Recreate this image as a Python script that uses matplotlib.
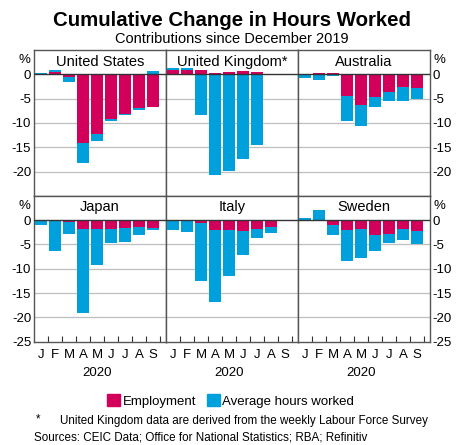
import numpy as np
import matplotlib.pyplot as plt
from matplotlib.patches import Patch

plt.rcParams['font.family'] = ['Liberation Sans', 'DejaVu Sans']
plt.rcParams['axes.unicode_minus'] = False

# DATA --->
months = ['J', 'F', 'M', 'A', 'M', 'J', 'J', 'A', 'S']
countries = ['United States', 'United Kingdom*', 'Australia',
             'Japan', 'Italy', 'Sweden']

emp_us = [0.0, 0.55, -0.5, -14.2, -12.3, -9.2, -8.2, -7.0, -6.8]
hrs_us = [0.2, 0.35, -1.1, -4.1, -1.4, -0.5, -0.1, -0.4, 0.7]

emp_uk = [0.95, 0.9, 0.9, 0.2, 0.4, 0.6, 0.5]
hrs_uk = [0.35, 0.3, -8.4, -20.7, -19.8, -17.4, -14.5]

emp_au = [0.1, 0.2, 0.2, -4.4, -6.4, -4.7, -3.7, -2.7, -2.9]
hrs_au = [-0.7, -1.2, -0.35, -5.2, -4.2, -2.0, -1.7, -2.8, -2.1]

emp_jp = [-0.2, -0.1, -0.4, -1.9, -1.9, -1.85, -1.6, -1.45, -1.6]
hrs_jp = [-0.75, -6.3, -2.5, -17.2, -7.3, -2.8, -2.9, -1.6, -0.5]

emp_it = [-0.05, -0.05, -0.5, -2.0, -2.0, -2.2, -1.85, -1.45]
hrs_it = [-1.9, -2.5, -12.0, -14.8, -9.5, -5.0, -1.9, -1.3]

emp_se = [-0.2, -0.15, -1.1, -2.0, -1.8, -3.0, -2.8, -1.9, -2.3]
hrs_se = [0.4, 2.0, -2.0, -6.4, -6.1, -3.4, -2.0, -2.2, -2.7]

yticks_top = [0, -5, -10, -15, -20]
yticks_bot = [0, -5, -10, -15, -20, -25]
# <--- DATA

emp_data = [emp_us, emp_uk, emp_au, emp_jp, emp_it, emp_se]
hrs_data = [hrs_us, hrs_uk, hrs_au, hrs_jp, hrs_it, hrs_se]

col_emp = '#D2005A'
col_hrs = '#00A0DC'
grid_col = '#BEBEBE'
frame_col = '#555555'

fig = plt.figure(figsize=(4.59, 4.45), dpi=100)

left = 34 / 459.
width = 132 / 459.
height = 145.8 / 445.
bottom_row = 1 - 341.6 / 445.
bottoms = [bottom_row + height, bottom_row]

for i in range(6):
    row = i // 3
    colm = i % 3
    ax = fig.add_axes([left + colm * width, bottoms[row], width, height])

    emp = np.array(emp_data[i])
    hrs = np.array(hrs_data[i])
    x = np.arange(len(emp))
    # stack hours on employment when same sign, otherwise start at zero
    base = np.where(np.sign(emp) == np.sign(hrs), emp, 0.0)

    ax.bar(x, emp, width=0.85, color=col_emp, zorder=3)
    ax.bar(x, hrs, width=0.85, bottom=base, color=col_hrs, zorder=3)

    ax.set_xlim(-0.5, 8.93)
    ax.set_ylim(-25, 5)

    for g in [-5, -10, -15, -20]:
        ax.axhline(g, color=grid_col, lw=0.9, zorder=1)
    ax.axhline(0, color='#333333', lw=1.0, zorder=4)

    for s in ax.spines.values():
        s.set_color(frame_col)
        s.set_linewidth(1.0)

    ax.text(4.2, 2.6, countries[i], ha='center', va='center',
            fontsize=10.5, zorder=5)

    ticks = yticks_top if row == 0 else yticks_bot
    ax.set_yticks(ticks)
    ax.set_yticklabels([str(t) for t in ticks])
    ax.tick_params(axis='y', length=0, labelsize=9.5, pad=2)
    if colm == 0:
        ax.tick_params(axis='y', left=False, labelleft=True,
                       right=False, labelright=False)
        ax.text(-0.03, 0.93, '%', transform=ax.transAxes, ha='right',
                va='center', fontsize=9.5)
    elif colm == 2:
        ax.tick_params(axis='y', left=False, labelleft=False,
                       right=False, labelright=True)
        ax.text(1.03, 0.93, '%', transform=ax.transAxes, ha='left',
                va='center', fontsize=9.5)
    else:
        ax.tick_params(axis='y', labelleft=False)

    if row == 1:
        ax.set_xticks(np.arange(9))
        ax.set_xticklabels(months)
        ax.set_xticks(np.arange(9) + 0.5, minor=True)
        ax.tick_params(axis='x', which='major', length=0, labelsize=9.5,
                       pad=5)
        ax.tick_params(axis='x', which='minor', direction='in', length=4,
                       width=0.8, color='#333333')
        ax.text(4, -0.215, '2020', transform=ax.get_xaxis_transform(),
                ha='center', va='center', fontsize=9.5)
    else:
        ax.set_xticks([])

fig.text(0.505, 1 - 20 / 445., 'Cumulative Change in Hours Worked',
         ha='center', va='center', fontsize=14.7, fontweight='bold')
fig.text(0.505, 1 - 39 / 445., 'Contributions since December 2019',
         ha='center', va='center', fontsize=10.5)

handles = [Patch(color=col_emp, label='Employment'),
           Patch(color=col_hrs, label='Average hours worked')]
fig.legend(handles=handles, loc='center', bbox_to_anchor=(0.502, 1 - 401 / 445.),
           ncol=2, frameon=False, fontsize=9.5, handlelength=1.0,
           handleheight=1.0, handletextpad=0.2, columnspacing=0.8)

fig.text(36 / 459., 1 - 419 / 445., '*', ha='left', va='center', fontsize=8.4)
fig.text(60 / 459., 1 - 421 / 445.,
         'United Kingdom data are derived from the weekly Labour Force Survey',
         ha='left', va='center', fontsize=8.4)
fig.text(34 / 459., 1 - 438 / 445.,
         'Sources: CEIC Data; Office for National Statistics; RBA; Refinitiv',
         ha='left', va='center', fontsize=8.4)

fig.savefig('out.png', dpi=100)
